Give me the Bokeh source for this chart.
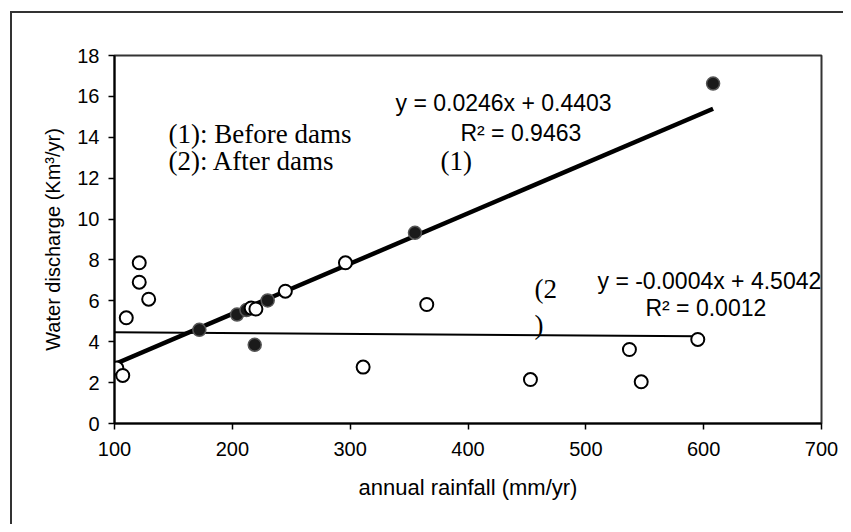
from bokeh.plotting import figure
from bokeh.models import Range1d, FixedTicker, Label, ColumnDataSource
from bokeh.embed import file_html
from bokeh.resources import INLINE

# ---- data ----
before_x = [172, 204, 212, 219, 230, 355, 608]
before_y = [4.58, 5.33, 5.55, 3.85, 6.02, 9.33, 16.63]

after_x = [102, 107, 110, 121, 121, 129, 216, 220, 245, 296, 311, 365, 453, 537, 547, 595]
after_y = [2.71, 2.35, 5.17, 7.86, 6.91, 6.08, 5.65, 5.60, 6.47, 7.86, 2.76, 5.82, 2.15, 3.62, 2.04, 4.11]

fit1_slope, fit1_intercept = 0.0246, 0.4403
fit2_slope, fit2_intercept = -0.0004, 4.5042

x_ticks = [100, 200, 300, 400, 500, 600, 700]
y_ticks = [0, 2, 4, 6, 8, 10, 12, 14, 16, 18]

eq1_text = "y = 0.0246x + 0.4403"
r1_text = "R\u00b2 = 0.9463"
eq2_text = "y = -0.0004x + 4.5042"
r2_text = "R\u00b2 = 0.0012"
legend1_text = "(1): Before dams"
legend2_text = "(2): After dams"

SANS = "Liberation Sans"
SERIF = "Liberation Serif"

p = figure(frame_width=707, frame_height=368,
           min_border_left=102, min_border_right=22,
           min_border_top=42, min_border_bottom=101,
           output_backend="svg", toolbar_location=None,
           x_range=Range1d(100, 700), y_range=Range1d(0, 18))
p.styles = {"margin-left": "10px", "margin-top": "11px",
            "border-left": "2px solid #333333", "border-top": "2px solid #333333"}

p.xgrid.visible = False
p.ygrid.visible = False
p.background_fill_color = "white"
p.border_fill_color = "white"
p.outline_line_color = "#333333"
p.outline_line_width = 2

for ax in (p.xaxis[0], p.yaxis[0]):
    ax.axis_line_color = "black"
    ax.axis_line_width = 2
    ax.major_tick_line_color = "black"
    ax.major_tick_line_width = 1.5
    ax.major_tick_out = 6
    ax.major_tick_in = 0
    ax.minor_tick_line_color = None
    ax.major_label_text_font = SANS
    ax.major_label_text_font_size = "20px"
    ax.major_label_text_color = "black"
    ax.axis_label_text_font = SANS
    ax.axis_label_text_font_style = "normal"
    ax.axis_label_text_color = "black"

p.xaxis.axis_label_text_font_size = "22px"
p.yaxis.axis_label_text_font_size = "20px"
p.xaxis.ticker = FixedTicker(ticks=x_ticks)
p.yaxis.ticker = FixedTicker(ticks=y_ticks)
p.xaxis.axis_label = "annual rainfall (mm/yr)"
p.yaxis.axis_label = "Water discharge (Km\u00b3/yr)"
p.xaxis.major_label_standoff = 12
p.yaxis.major_label_standoff = 9
p.xaxis.axis_label_standoff = 16
p.yaxis.axis_label_standoff = 10

# trend lines (backward forecast to the axis start)
x0 = x_ticks[0]
t1x = [x0, max(before_x)]
t1y = [fit1_slope * v + fit1_intercept for v in t1x]
t2x = [x0, max(after_x)]
t2y = [fit2_slope * v + fit2_intercept for v in t2x]
p.line(t1x, t1y, line_color="black", line_width=4.5)
p.line(t2x, t2y, line_color="black", line_width=2)

src_b = ColumnDataSource(dict(x=before_x, y=before_y))
src_a = ColumnDataSource(dict(x=after_x, y=after_y))
p.scatter("x", "y", source=src_b, size=13, marker="circle",
          fill_color="#1a1a1a", line_color="#555555", line_width=1.5)
p.scatter("x", "y", source=src_a, size=13, marker="circle",
          fill_color="white", line_color="black", line_width=2)

def add_text(x, y, txt, font, size):
    p.add_layout(Label(x=x, y=y, text=txt, text_font=font, text_font_size=size,
                       text_color="black", text_align="left",
                       text_baseline="alphabetic"))

add_text(338.5, 15.67, eq1_text, SANS, "23px")
add_text(393.6, 14.19, r1_text, SANS, "23px")
add_text(145.8, 14.17, legend1_text, SERIF, "27px")
add_text(145.8, 12.86, legend2_text, SERIF, "27px")
add_text(376.7, 12.86, "(1)", SERIF, "27px")
add_text(456.4, 6.59, "(2", SERIF, "27px")
add_text(456.4, 4.84, ")", SERIF, "27px")
add_text(509.9, 6.99, eq2_text, SANS, "23px")
add_text(550.6, 5.63, r2_text, SANS, "23px")

open("out.html", "w").write(file_html(p, INLINE))
